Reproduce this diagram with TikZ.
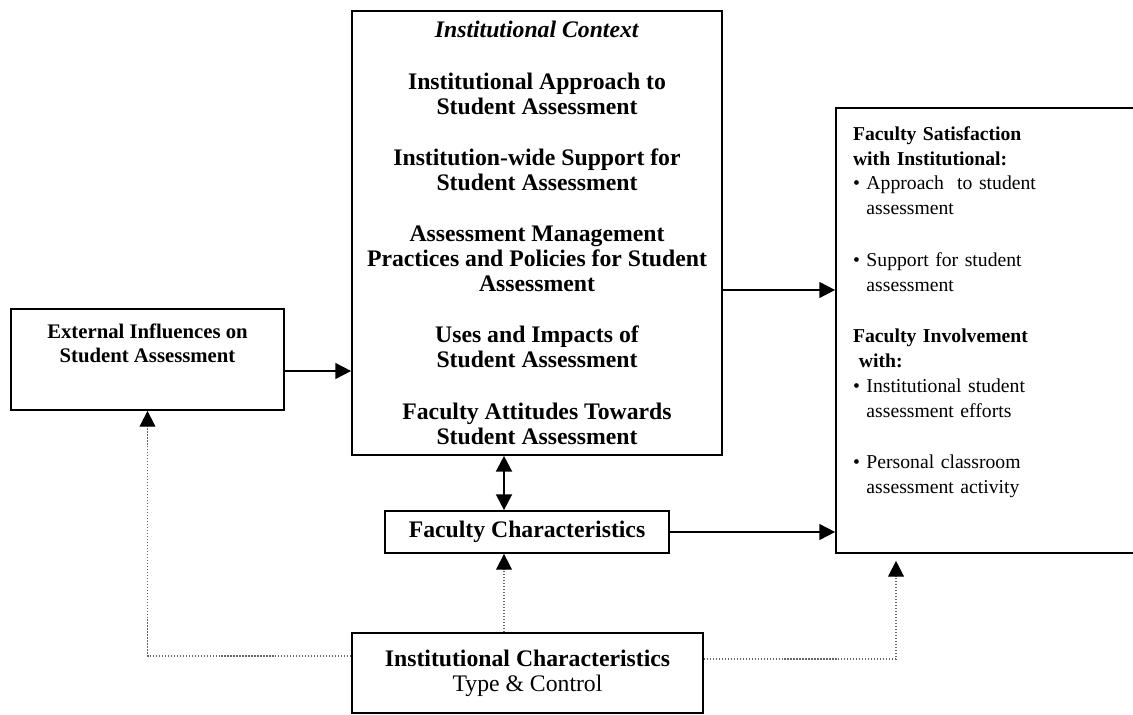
\documentclass[tikz,border=0pt]{standalone}
\usepackage{fontspec}
\setmainfont{Liberation Serif}
\usetikzlibrary{arrows.meta}

\begin{document}
\begin{tikzpicture}[x=0.02cm,y=-0.02cm,
  box/.style={draw,line width=1pt,inner sep=0pt,align=center,font=\fontsize{13.5}{14.2}\selectfont\bfseries},
  small/.style={font=\fontsize{11.2}{14.2}\selectfont\bfseries},
  arr/.style={line width=1pt,-{Triangle[length=9pt,width=9pt]}},
  dbl/.style={line width=1.4pt,{Triangle[length=9pt,width=9pt]}-{Triangle[length=9pt,width=9pt]}},
  dotarr/.style={densely dotted,line width=0.7pt,black!60,-{Triangle[length=9pt,width=9pt,black]}}]
\useasboundingbox (0,0) rectangle (1133,714);

\node[box,minimum width=7.4cm,minimum height=8.88cm] (ctx) at (537,233)
  {\textit{Institutional Context}\\[15pt]
   Institutional Approach to\\ Student Assessment\\[15pt]
   Institution-wide Support for\\ Student Assessment\\[15pt]
   Assessment Management\\ Practices and Policies for Student\\ Assessment\\[15pt]
   Uses and Impacts of\\ Student Assessment\\[15pt]
   Faculty Attitudes Towards\\ Student Assessment};

\node[box,small,font=\fontsize{11.8}{13.8}\selectfont\bfseries,minimum width=5.46cm,minimum height=2.02cm] (ext) at (147.5,359.5)
  {External Influences on\\ Student Assessment\\[1pt]\strut};

\node[box,minimum width=5.68cm,minimum height=0.84cm] (fac) at (527,532)
  {Faculty Characteristics};

\node[box,minimum width=7.02cm,minimum height=1.6cm] (inst) at (527.5,673)
  {Institutional Characteristics\\ \mdseries Type \& Control};

\node[box,small,align=left,inner xsep=0.34cm,text width=5.52cm,minimum height=8.9cm] (outc) at (991,330.5)
  {\bfseries Faculty Satisfaction\\
   \bfseries with Institutional:\\
   \mdseries\textbullet\ Approach\ \ to student\\
   \mdseries\hphantom{\textbullet\ }assessment\\[15pt]
   \mdseries\textbullet\ Support for student\\
   \mdseries\hphantom{\textbullet\ }assessment\\[15pt]
   \bfseries Faculty Involvement\\
   \bfseries\hspace{0.3em}with:\\
   \mdseries\textbullet\ Institutional student\\
   \mdseries\hphantom{\textbullet\ }assessment efforts\\[15pt]
   \mdseries\textbullet\ Personal classroom\\
   \mdseries\hphantom{\textbullet\ }assessment activity\\[5pt]\strut};

\draw[arr] ([yshift=-0.23cm]ext.east) -- ([yshift=-0.23cm]ext.east -| ctx.west);
\draw[arr] ([yshift=-1.14cm]ctx.east) -- ([yshift=-1.14cm]ctx.east -| outc.west);
\draw[arr] (fac.east) -- (fac.east -| outc.west);
\draw[dbl] ([xshift=-0.46cm]fac.north) -- ([xshift=-0.46cm]fac.north |- ctx.south);

% dotted links from the institution
\draw[dotarr] ([xshift=-0.47cm]inst.north) -- ([xshift=-0.47cm]inst.north |- fac.south);
\draw[dotarr] ([yshift=0.34cm]inst.west) -| (ext.south);
\draw[dotarr] ([yshift=0.28cm]inst.east) -| ([xshift=-1.9cm,yshift=-0.14cm]outc.south);
\end{tikzpicture}
\end{document}
